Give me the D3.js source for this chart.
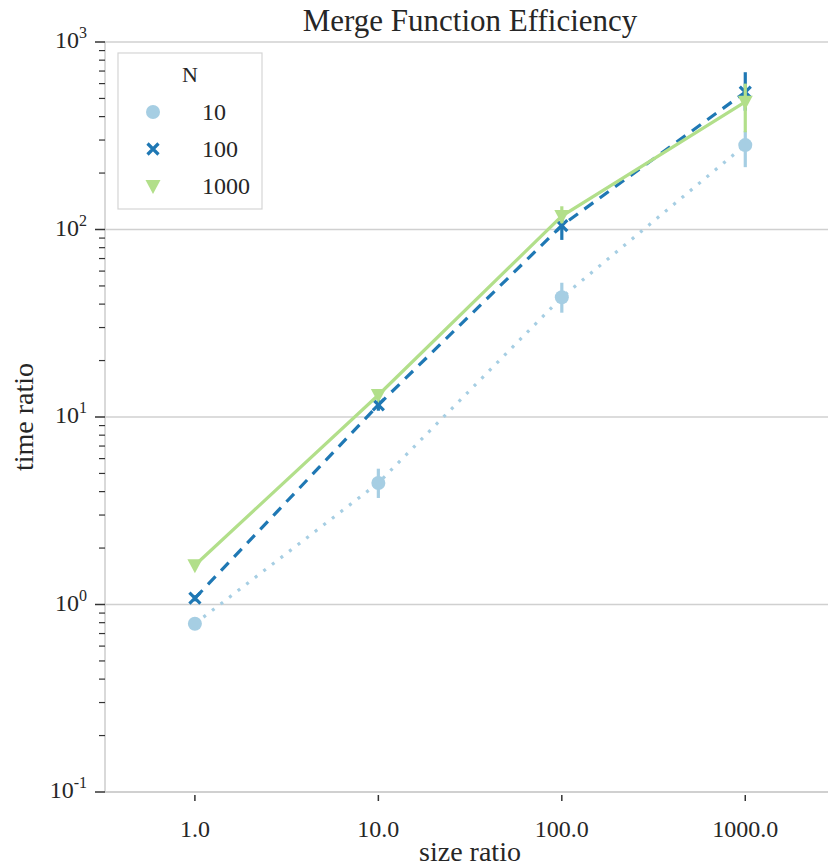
<!DOCTYPE html>
<html>
<head>
<meta charset="utf-8">
<script src="https://cdn.jsdelivr.net/npm/d3@7"></script>
<style>
  html, body { margin: 0; padding: 0; background: #ffffff; }
  svg { display: block; }
</style>
</head>
<body>
<svg id="chart" width="828" height="867"></svg>
<script>
// Size ratios on the categorical x axis
const sizeRatios = ["1.0", "10.0", "100.0", "1000.0"];

// Mean time ratio per group size N
const seriesN = ["10", "100", "1000"];
const timeN10   = [0.79, 4.45, 43.5, 282];
const timeN100  = [1.08, 11.6, 105, 540];
const timeN1000 = [1.62, 13.1, 118, 480];

// Confidence interval bounds
const lowN10   = [0.76, 3.7, 36, 215];
const highN10  = [0.82, 5.3, 52, 335];
const lowN100  = [1.04, 10.8, 88, 430];
const highN100 = [1.12, 12.6, 122, 690];
const lowN1000 = [1.55, 12.4, 108, 330];
const highN1000 = [1.70, 13.9, 133, 600];

const yTickExps = [-1, 0, 1, 2, 3];

const colors = ["#a6cee3", "#1f78b4", "#b2df8a"];
const dashes = ["3,7.8", "11,8", null];
const symbols = ["circle", "cross", "triangle"];

const series = [
  { name: seriesN[0], values: timeN10, lo: lowN10, hi: highN10 },
  { name: seriesN[1], values: timeN100, lo: lowN100, hi: highN100 },
  { name: seriesN[2], values: timeN1000, lo: lowN1000, hi: highN1000 }
];

(function draw() {
  const svg = d3.select("#chart");
  const pLeft = 105, pRight = 837, pTop = 42, pBottom = 792;
  const font = "'Liberation Serif', 'Times New Roman', serif";
  const textColor = "#262626";

  const x = d3.scaleLinear().domain([-0.49, 3.5]).range([pLeft, pRight]);
  const y = d3.scaleLog().domain([0.1, 1000]).range([pBottom, pTop]);

  // Horizontal grid at the decades
  svg.append("g").selectAll("line")
    .data(yTickExps)
    .join("line")
    .attr("x1", pLeft).attr("x2", pRight)
    .attr("y1", d => y(Math.pow(10, d))).attr("y2", d => y(Math.pow(10, d)))
    .attr("stroke", "#d0d0d0").attr("stroke-width", 1.5);

  // Spines
  svg.append("line").attr("x1", pLeft).attr("x2", pLeft).attr("y1", pTop).attr("y2", pBottom)
    .attr("stroke", "#cccccc").attr("stroke-width", 1.5);
  svg.append("line").attr("x1", pLeft).attr("x2", pRight).attr("y1", pBottom).attr("y2", pBottom)
    .attr("stroke", "#cccccc").attr("stroke-width", 1.5);

  // Y axis: major ticks, minor ticks and power-of-ten labels
  const minorVals = [];
  for (let e = -1; e < 3; e++) for (let m = 2; m <= 9; m++) minorVals.push(m * Math.pow(10, e));
  svg.append("g").selectAll("line")
    .data(minorVals)
    .join("line")
    .attr("x1", pLeft - 6).attr("x2", pLeft)
    .attr("y1", d => y(d)).attr("y2", d => y(d))
    .attr("stroke", "#333").attr("stroke-width", 1.2);
  svg.append("g").selectAll("line")
    .data(yTickExps)
    .join("line")
    .attr("x1", pLeft - 10).attr("x2", pLeft)
    .attr("y1", d => y(Math.pow(10, d))).attr("y2", d => y(Math.pow(10, d)))
    .attr("stroke", "#333").attr("stroke-width", 1.5);
  const yLab = svg.append("g").selectAll("text")
    .data(yTickExps)
    .join("text")
    .attr("x", pLeft - 18)
    .attr("y", d => y(Math.pow(10, d)) + 6)
    .attr("text-anchor", "end")
    .attr("font-family", font).attr("font-size", 24).attr("fill", textColor);
  yLab.append("tspan").text("10");
  yLab.append("tspan").attr("dy", -10).attr("font-size", 16).text(d => String(d));

  // X axis ticks and labels
  svg.append("g").selectAll("line")
    .data(sizeRatios)
    .join("line")
    .attr("x1", (d, i) => x(i)).attr("x2", (d, i) => x(i))
    .attr("y1", pBottom + 3).attr("y2", pBottom + 9)
    .attr("stroke", "#333").attr("stroke-width", 1.5);
  svg.append("g").selectAll("text")
    .data(sizeRatios)
    .join("text")
    .attr("x", (d, i) => x(i)).attr("y", pBottom + 45)
    .attr("text-anchor", "middle")
    .attr("font-family", font).attr("font-size", 24).attr("fill", textColor)
    .text(d => d);

  // Axis titles and chart title
  svg.append("text").attr("x", 470).attr("y", 861).attr("text-anchor", "middle")
    .attr("font-family", font).attr("font-size", 28).attr("fill", textColor).text("size ratio");
  svg.append("text").attr("transform", `translate(33,417) rotate(-90)`)
    .attr("text-anchor", "middle")
    .attr("font-family", font).attr("font-size", 28).attr("fill", textColor).text("time ratio");
  svg.append("text").attr("x", 470).attr("y", 31).attr("text-anchor", "middle")
    .attr("font-family", font).attr("font-size", 31).attr("fill", textColor).text("Merge Function Efficiency");

  // Marker drawing
  function drawMarker(g, kind, color) {
    if (kind === "circle") {
      g.append("circle").attr("r", 7).attr("fill", color);
    } else if (kind === "cross") {
      g.append("path").attr("d", "M-5.5,-5.5L5.5,5.5M-5.5,5.5L5.5,-5.5")
        .attr("stroke", color).attr("stroke-width", 3.2).attr("fill", "none");
    } else {
      g.append("path").attr("d", "M-7.5,-6L7.5,-6L0,8Z").attr("fill", color);
    }
  }

  // Lines, error bars and markers per series
  const line = d3.line().x((d, i) => x(i)).y(d => y(d));
  series.forEach((s, k) => {
    const g = svg.append("g");
    g.append("path").datum(s.values)
      .attr("d", line)
      .attr("fill", "none").attr("stroke", colors[k]).attr("stroke-width", 3.2)
      .attr("stroke-dasharray", dashes[k]);
    g.selectAll("line.err")
      .data(s.values)
      .join("line")
      .attr("class", "err")
      .attr("x1", (d, i) => x(i)).attr("x2", (d, i) => x(i))
      .attr("y1", (d, i) => y(s.lo[i])).attr("y2", (d, i) => y(s.hi[i]))
      .attr("stroke", colors[k]).attr("stroke-width", 3.2);
    s.values.forEach((v, i) => {
      const m = g.append("g").attr("transform", `translate(${x(i)},${y(v)})`);
      drawMarker(m, symbols[k], colors[k]);
    });
  });

  // Legend
  const legend = svg.append("g");
  legend.append("rect").attr("x", 118).attr("y", 53).attr("width", 144).attr("height", 156)
    .attr("fill", "#ffffff").attr("stroke", "#d5d5d5").attr("stroke-width", 1.2);
  legend.append("text").attr("x", 190).attr("y", 82).attr("text-anchor", "middle")
    .attr("font-family", font).attr("font-size", 22).attr("fill", textColor).text("N");
  seriesN.forEach((n, k) => {
    const cy = 112 + k * 37;
    const m = legend.append("g").attr("transform", `translate(153,${cy})`);
    drawMarker(m, symbols[k], colors[k]);
    legend.append("text").attr("x", 202).attr("y", cy + 7.5)
      .attr("font-family", font).attr("font-size", 24).attr("fill", textColor).text(n);
  });
})();
</script>
</body>
</html>
